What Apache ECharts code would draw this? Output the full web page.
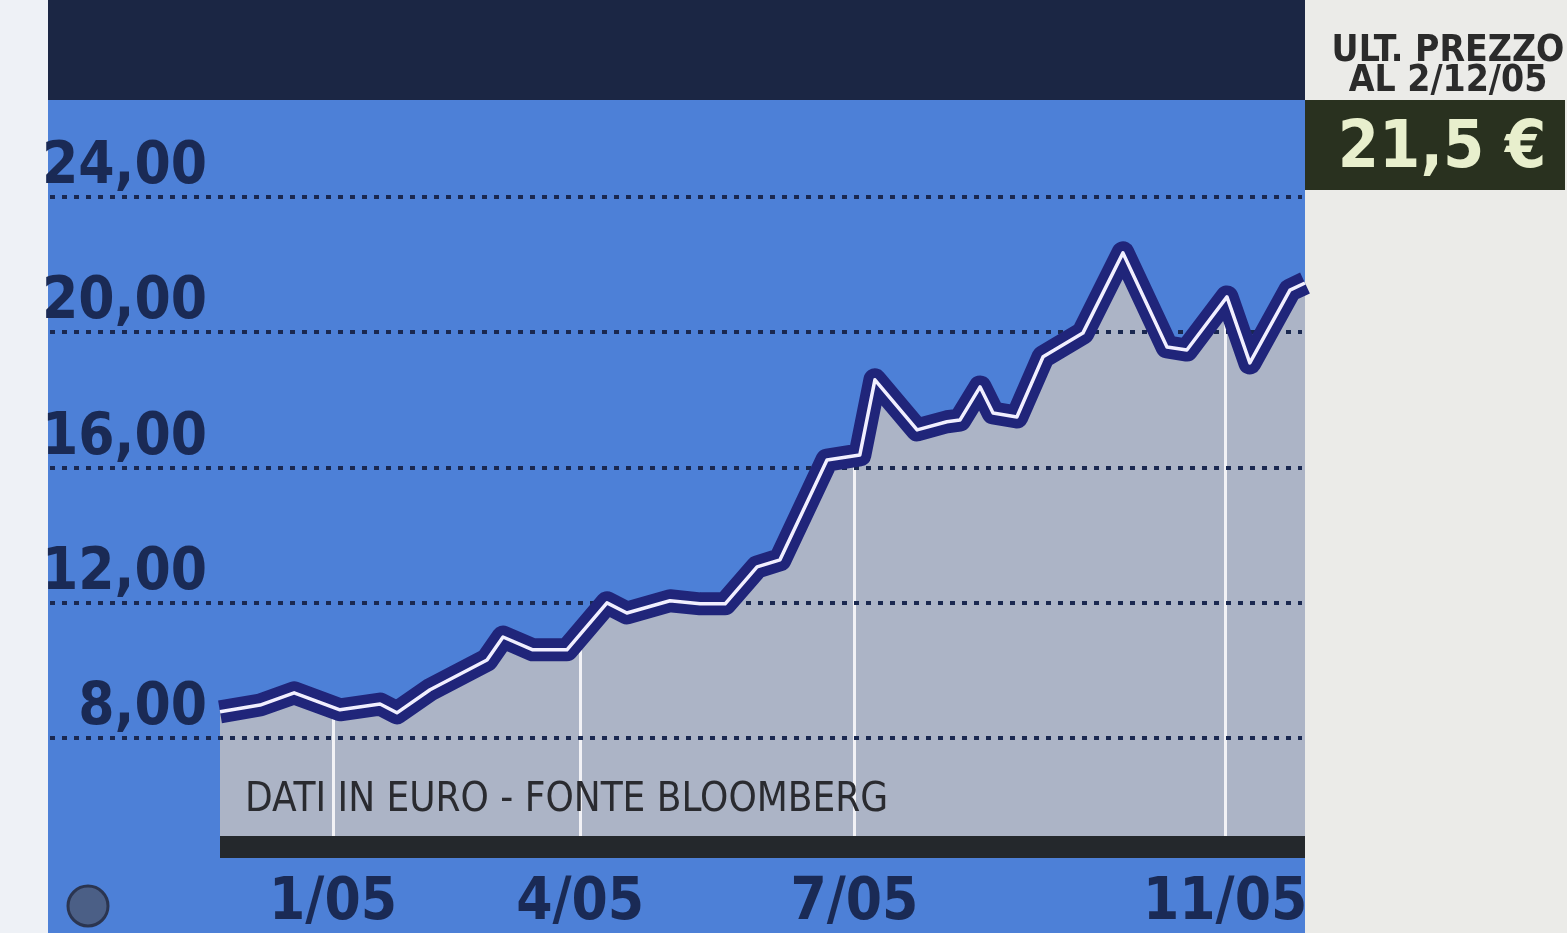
<!DOCTYPE html>
<html><head><meta charset="utf-8">
<script src="https://cdn.jsdelivr.net/npm/echarts@6/dist/echarts.min.js"></script>
<style>html,body{margin:0;padding:0;background:#ebebe8}#c{width:1567px;height:933px}</style>
</head><body><div id="c"></div>
<script>
// ---- data ----
// x = days since 1 Dec 2004 (approx.), y = price in euro
const priceDays = [0, 13.3, 24.6, 39.8, 53.1, 58.7, 69.7, 88.6, 93.9, 103.8, 115.1, 128.4, 135.0, 149.3, 159.3, 167.6, 178.2, 185.8, 201.4, 212.3, 217.3, 231.3, 241.2, 245.5, 252.2, 256.5, 264.4, 273.1, 286.3, 299.6, 314.2, 320.8, 334.1, 341.7, 355.0, 360];
const priceValues = [8.77, 8.97, 9.33, 8.83, 9.00, 8.74, 9.42, 10.30, 10.98, 10.60, 10.60, 11.99, 11.69, 12.05, 11.96, 11.96, 13.05, 13.26, 16.21, 16.36, 18.58, 17.10, 17.34, 17.39, 18.37, 17.60, 17.48, 19.26, 19.96, 22.33, 19.55, 19.46, 21.03, 19.08, 21.23, 21.44];
const xTickValues = [37.5, 119.5, 210.5, 333.5];
const xTickLabels = ['1/05', '4/05', '7/05', '11/05'];
const yTickMin = 4, yTickMax = 28, yTickStep = 4;
const sourceNote = 'DATI IN EURO - FONTE BLOOMBERG';
const lastPriceTitle = ['ULT. PREZZO', 'AL 2/12/05'];
const lastPriceValue = '21,5 €';

// ---- styling ----
const BLUE = '#4d80d7', NAVY = '#1b2644', LINE_NAVY = '#20257a', GRAY = '#acb4c6';
const NARROW = "'Liberation Sans Narrow', 'DejaVu Sans Condensed', 'Roboto', sans-serif";
const pts = priceDays.map((d, i) => [d, priceValues[i]]);

const chart = echarts.init(document.getElementById('c'), null, {renderer: 'canvas'});
chart.setOption({
  animation: false,
  backgroundColor: '#ebebe8',
  graphic: [
    {type: 'rect', shape: {x: 0, y: 0, width: 48, height: 933}, style: {fill: '#eef1f6'}, z: 0, silent: true},
    {type: 'rect', shape: {x: 48, y: 0, width: 1257, height: 933}, style: {fill: BLUE}, z: 0, silent: true},
    {type: 'rect', shape: {x: 48, y: 0, width: 1257, height: 100}, style: {fill: NAVY}, z: 10, silent: true},
    {type: 'rect', shape: {x: 1305, y: 100, width: 260, height: 90}, style: {fill: '#29311f'}, z: 10, silent: true},
    {type: 'circle', shape: {cx: 88, cy: 906, r: 20}, style: {fill: '#4b5f86', stroke: '#2b3550', lineWidth: 3}, z: 10, silent: true}
  ],
  title: [
    {text: sourceNote, left: 240, top: 776, z: 20, textStyle: {fontFamily: NARROW, fontSize: 40, fontWeight: 'normal', color: '#2a2b30'}},
    {text: lastPriceTitle[0], left: 1443, top: 28, textAlign: 'center', z: 20, textStyle: {fontFamily: NARROW, fontSize: 37, fontWeight: 'bold', color: '#2b2b2b'}},
    {text: lastPriceTitle[1], left: 1443, top: 58, textAlign: 'center', z: 20, textStyle: {fontFamily: NARROW, fontSize: 37, fontWeight: 'bold', color: '#2b2b2b'}},
    {text: lastPriceValue, left: 1437, top: 112, textAlign: 'center', z: 20, textStyle: {fontFamily: NARROW, fontSize: 66, fontWeight: 'bold', color: '#e8efcd'}}
  ],
  grid: [
    {left: 50, right: 265, top: 61.6, bottom: 59.6, show: false},
    {left: 220, right: 262, top: 94.85, bottom: 96.85, show: true, backgroundColor: GRAY, borderWidth: 0, z: 1}
  ],
  xAxis: [
    {type: 'value', gridIndex: 0, min: 0, max: 1, show: false},
    {type: 'value', gridIndex: 1, min: 0, max: 360, z: 2, offset: 11,
     axisLine: {show: true, onZero: false, lineStyle: {color: '#24282c', width: 22, cap: 'butt'}},
     axisTick: {show: false, customValues: xTickValues},
     axisLabel: {customValues: xTickValues, formatter: v => xTickLabels[xTickValues.indexOf(v)] || '',
       color: '#1a2a55', fontFamily: NARROW, fontSize: 58, fontWeight: 'bold', margin: 28, verticalAlign: 'top'},
     splitLine: {show: true, lineStyle: {color: '#f2f2f6', width: 3}}}
  ],
  yAxis: [
    {type: 'value', gridIndex: 0, min: yTickMin, max: yTickMax, interval: yTickStep, z: 4,
     axisLine: {show: false}, axisTick: {show: false},
     axisLabel: {inside: true, align: 'right', margin: 157, verticalAlign: 'bottom', showMinLabel: false, showMaxLabel: false,
       formatter: v => v.toFixed(2).replace('.', ','), color: '#1a2a55', fontFamily: NARROW, fontSize: 58, fontWeight: 'bold'},
     splitLine: {show: true, showMinLine: false, showMaxLine: false, lineStyle: {color: '#1a2850', width: 4, type: [5, 7]}}},
    {type: 'value', gridIndex: 1, min: 5.1, max: 27, show: false}
  ],
  series: [
    {type: 'line', xAxisIndex: 1, yAxisIndex: 1, data: pts, symbol: 'none', silent: true, z: 3,
     lineStyle: {width: 0}, areaStyle: {color: BLUE, opacity: 1, origin: 'end'}},
    {type: 'line', xAxisIndex: 1, yAxisIndex: 1, data: pts, symbol: 'none', silent: true, z: 5,
     lineStyle: {color: LINE_NAVY, width: 23, join: 'round', cap: 'butt'}},
    {type: 'line', xAxisIndex: 1, yAxisIndex: 1, data: pts, symbol: 'none', silent: true, z: 6,
     lineStyle: {color: '#f1efff', width: 3.5, join: 'round'}}
  ]
});
</script>
</body></html>
